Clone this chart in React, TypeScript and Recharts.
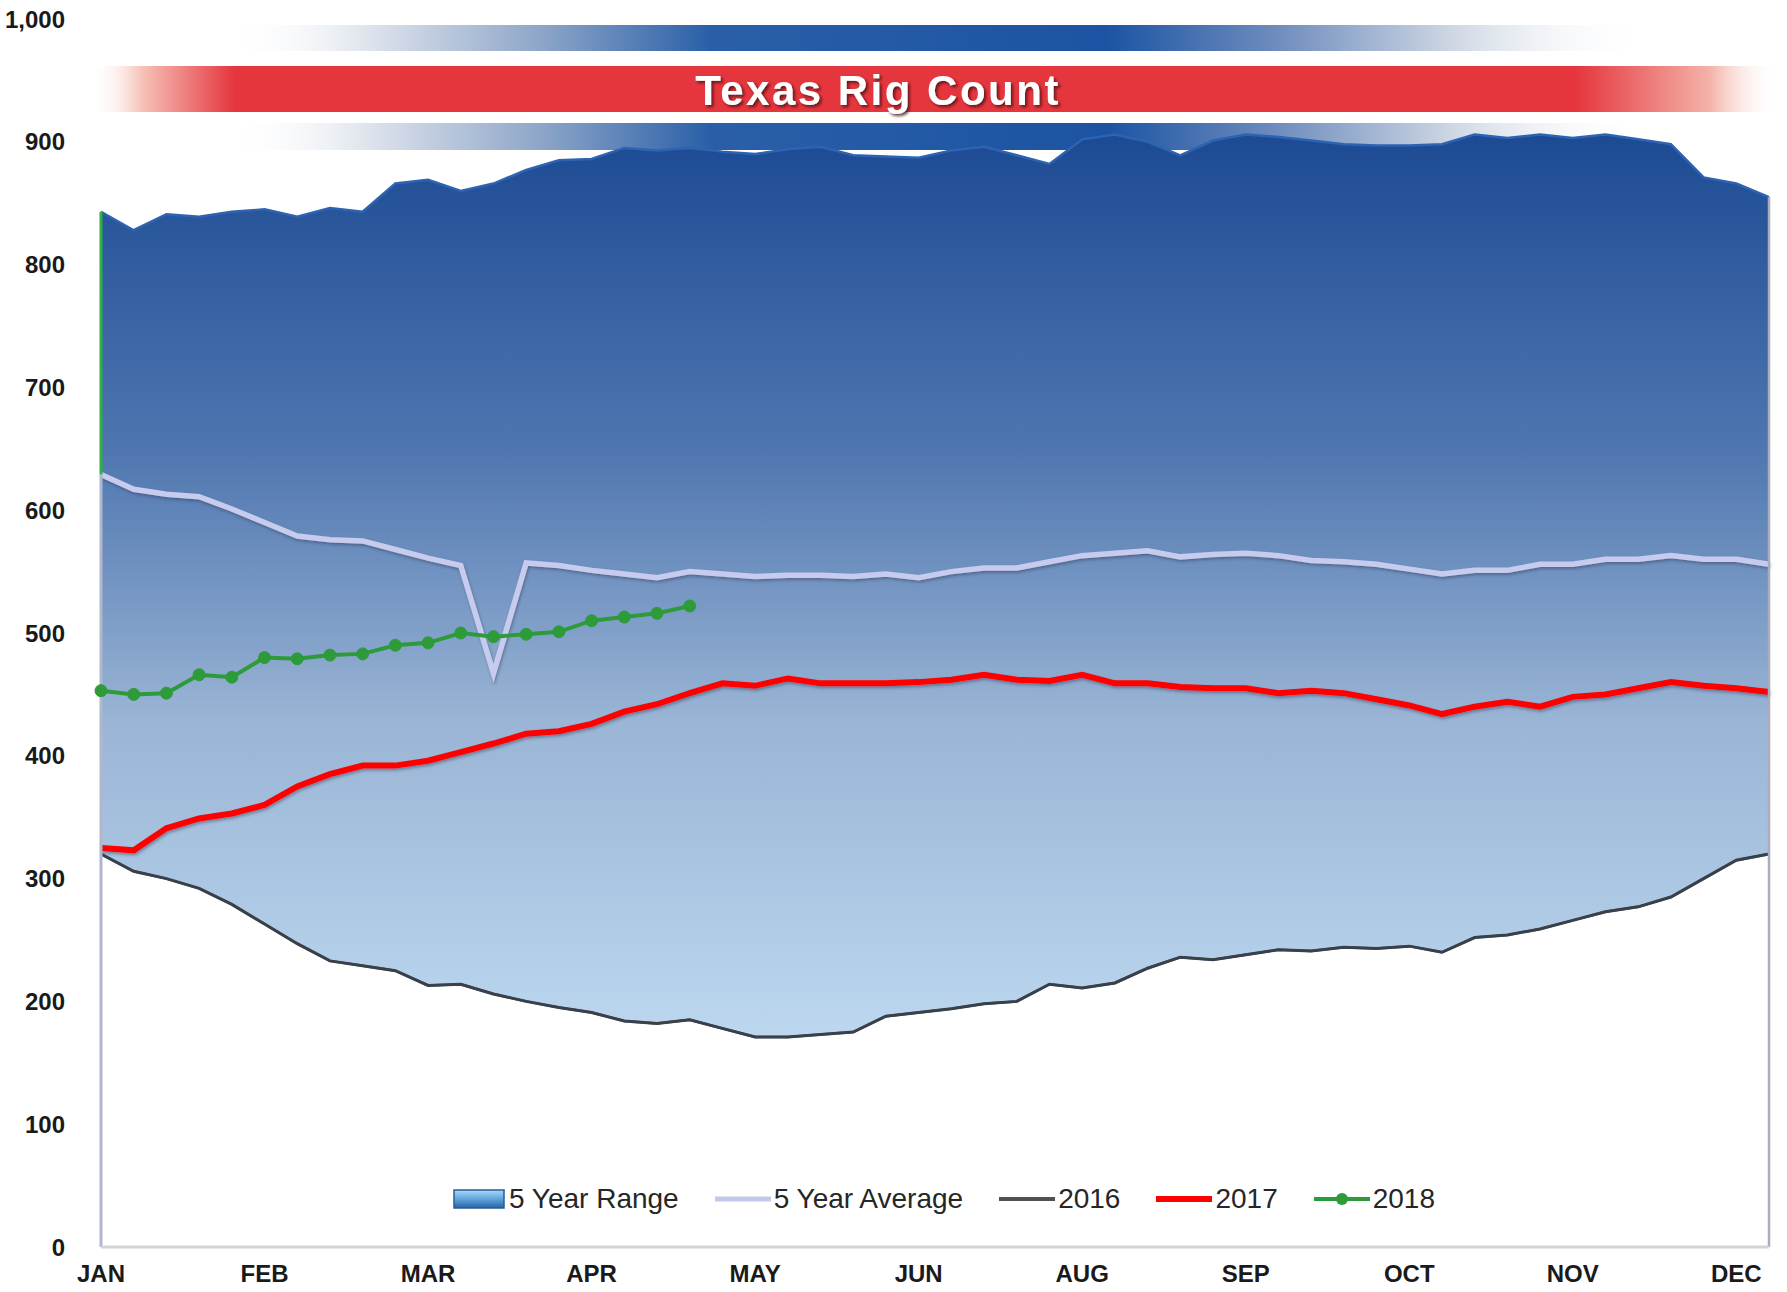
import React from 'react';
import {
  ComposedChart,
  Area,
  Line,
  XAxis,
  YAxis,
  Legend,
  ReferenceLine
} from 'recharts';

// weekly index, Jan..Dec
const weeks = [
  0, 1, 2, 3, 4, 5, 6, 7, 8, 9, 10, 11, 12, 13, 14, 15, 16, 17, 18, 19, 20, 21, 22, 23, 24, 25,
  26, 27, 28, 29, 30, 31, 32, 33, 34, 35, 36, 37, 38, 39, 40, 41, 42, 43, 44, 45, 46, 47, 48, 49, 50, 51
];
const monthTicks = [0, 5, 10, 15, 20, 25, 30, 35, 40, 45, 50];
const monthLabels = ['JAN', 'FEB', 'MAR', 'APR', 'MAY', 'JUN', 'AUG', 'SEP', 'OCT', 'NOV', 'DEC'];
const yTicks = [0, 100, 200, 300, 400, 500, 600, 700, 800, 900, 1000];

const fiveYearMax = [
  843, 828, 841, 839, 843, 845, 839, 846, 843, 866, 869, 860, 866, 877, 885, 886, 895, 893, 895, 892,
  890, 894, 896, 889, 888, 887, 893, 896, 889, 882, 902, 906, 900, 889, 901, 906, 904, 901, 898, 897,
  897, 898, 906, 903, 906, 903, 906, 902, 898, 871, 866, 855
];
const fiveYearAvg = [
  629, 617, 613, 611, 601, 590, 579, 576, 575, 568, 561, 555, 467, 557, 555, 551, 548, 545, 550, 548,
  546, 547, 547, 546, 548, 545, 550, 553, 553, 558, 563, 565, 567, 562, 564, 565, 563, 559, 558, 556,
  552, 548, 551, 551, 556, 556, 560, 560, 563, 560, 560, 556
];
const series2016 = [
  320, 306, 300, 292, 279, 263, 247, 233, 229, 225, 213, 214, 206, 200, 195, 191, 184, 182, 185, 178,
  171, 171, 173, 175, 188, 191, 194, 198, 200, 214, 211, 215, 227, 236, 234, 238, 242, 241, 244, 243,
  245, 240, 252, 254, 259, 266, 273, 277, 285, 300, 315, 320
];
const series2017 = [
  325, 323, 341, 349, 353, 360, 375, 385, 392, 392, 396, 403, 410, 418, 420, 426, 436, 442, 451, 459,
  457, 463, 459, 459, 459, 460, 462, 466, 462, 461, 466, 459, 459, 456, 455, 455, 451, 453, 451, 446,
  441, 434, 440, 444, 440, 448, 450, 455, 460, 457, 455, 452
];
const series2018 = [
  453, 450, 451, 466, 464, 480, 479, 482, 483, 490, 492, 500, 497, 499, 501, 510, 513, 516, 522
];

const data = weeks.map((w, i) => ({
  w,
  range: [series2016[i], fiveYearMax[i]],
  avg: fiveYearAvg[i],
  s2016: series2016[i],
  s2017: series2017[i],
  s2018: i < series2018.length ? series2018[i] : null
}));

const SANS = "'Liberation Sans', Arial, sans-serif";

const legendItems = [
  { label: '5 Year Range', kind: 'box', color: '#2e6fb0', width: 0 },
  { label: '5 Year Average', kind: 'line', color: '#c3c8ea', width: 5 },
  { label: '2016', kind: 'line', color: '#4d5257', width: 4 },
  { label: '2017', kind: 'line', color: '#ff0000', width: 6 },
  { label: '2018', kind: 'dot', color: '#2e9b3a', width: 4 }
];

function LegendContent() {
  return (
    <div style={{ display: 'flex', justifyContent: 'center', alignItems: 'center', gap: 36, paddingLeft: 98 }}>
      {legendItems.map((it) => (
        <div key={it.label} style={{ display: 'flex', alignItems: 'center' }}>
          <svg width={56} height={24} style={{ marginRight: 3 }}>
            <defs>
              <linearGradient id="legBox" x1="0" x2="0" y1="0" y2="1">
                <stop offset="0" stopColor="#a9d8f5" />
                <stop offset="0.5" stopColor="#5ea6dc" />
                <stop offset="1" stopColor="#2b62a3" />
              </linearGradient>
            </defs>
            {it.kind === 'box' ? (
              <rect x={4} y={3} width={50} height={18} fill="url(#legBox)" stroke="#2a5d96" strokeWidth={1.5} />
            ) : (
              <line x1={0} x2={56} y1={12} y2={12} stroke={it.color} strokeWidth={it.width} />
            )}
            {it.kind === 'dot' && <circle cx={28} cy={12} r={6} fill={it.color} />}
          </svg>
          <span style={{ fontFamily: SANS, fontSize: 28, color: '#262626' }}>{it.label}</span>
        </div>
      ))}
    </div>
  );
}

function Banner() {
  return (
    <svg width={1787} height={200} style={{ position: 'absolute', left: 0, top: 0 }}>
      <defs>
        <linearGradient id="blueBand" x1="0" x2="1" y1="0" y2="0">
          <stop offset="0" stopColor="#ffffff" stopOpacity={0} />
          <stop offset="0.1" stopColor="#dde3ec" />
          <stop offset="0.22" stopColor="#8ea6c8" />
          <stop offset="0.34" stopColor="#2a5fa8" />
          <stop offset="0.62" stopColor="#1c54a3" />
          <stop offset="0.74" stopColor="#6f8dbe" />
          <stop offset="0.87" stopColor="#d3dbe6" />
          <stop offset="1" stopColor="#ffffff" stopOpacity={0} />
        </linearGradient>
        <linearGradient id="redBand" x1="0" x2="1" y1="0" y2="0">
          <stop offset="0" stopColor="#ffffff" stopOpacity={0} />
          <stop offset="0.03" stopColor="#f6c2b8" />
          <stop offset="0.085" stopColor="#e5363e" />
          <stop offset="0.88" stopColor="#e5363e" />
          <stop offset="0.96" stopColor="#f4b3a9" />
          <stop offset="1" stopColor="#ffffff" stopOpacity={0} />
        </linearGradient>
        <filter id="titleShadow" x="-10%" y="-30%" width="120%" height="160%">
          <feDropShadow dx={2} dy={2} stdDeviation={1.5} floodColor="#4a1010" floodOpacity={0.85} />
        </filter>
      </defs>
      <rect x={228} y={25} width={1419} height={26} fill="url(#blueBand)" />
      <rect x={91} y={66} width={1687} height={46} fill="url(#redBand)" />
      <rect x={228} y={123} width={1419} height={27} fill="url(#blueBand)" />
      <text
        x={878}
        y={105}
        textAnchor="middle"
        fill="#ffffff"
        fontSize={42}
        fontWeight={700}
        letterSpacing={2.5}
        fontFamily={SANS}
        filter="url(#titleShadow)"
      >
        Texas Rig Count
      </text>
    </svg>
  );
}

export default function App() {
  const tickStyle = { fill: '#1a1a1a', fontSize: 24, fontWeight: 700, fontFamily: SANS };
  return (
    <div style={{ position: 'absolute', left: 0, top: 0, width: 1787, height: 1292, background: '#fff' }}>
      <Banner />
      <div style={{ position: 'absolute', left: 0, top: 0 }}>
        <ComposedChart width={1787} height={1292} data={data} margin={{ top: 19, right: 18, bottom: 0, left: 0 }}>
          <defs>
            <linearGradient id="rangeFill" x1="0" x2="0" y1="0" y2="1">
              <stop offset="0" stopColor="#1c4a93" />
              <stop offset="0.35" stopColor="#4f76b0" />
              <stop offset="0.65" stopColor="#9ab5d5" />
              <stop offset="1" stopColor="#bcd7ef" />
            </linearGradient>
            <filter id="lineShadow" x="-5%" y="-20%" width="110%" height="140%">
              <feDropShadow dx={1} dy={2} stdDeviation={1.5} floodColor="#2a3550" floodOpacity={0.45} />
            </filter>
          </defs>
          <XAxis
            dataKey="w"
            type="number"
            domain={[0, 51]}
            ticks={monthTicks}
            tickFormatter={(v: number) => monthLabels[monthTicks.indexOf(v)]}
            height={45}
            tickLine={false}
            axisLine={{ stroke: '#d4d4d4', strokeWidth: 3 }}
            tickMargin={12}
            tick={tickStyle}
          />
          <YAxis
            domain={[0, 1000]}
            ticks={yTicks}
            tickFormatter={(v: number) => v.toLocaleString('en-US')}
            width={101}
            tickLine={false}
            axisLine={false}
            tickMargin={30}
            tick={tickStyle}
          />
          <Area
            dataKey="range"
            type="linear"
            fill="url(#rangeFill)"
            fillOpacity={1}
            stroke="#2d63b3"
            strokeWidth={2.5}
            isAnimationActive={false}
            activeDot={false}
          />
          <Line
            dataKey="avg"
            type="linear"
            stroke="#c7ccee"
            strokeWidth={5.5}
            dot={false}
            activeDot={false}
            filter="url(#lineShadow)"
            isAnimationActive={false}
          />
          <Line
            dataKey="s2016"
            type="linear"
            stroke="#3b4046"
            strokeWidth={3}
            dot={false}
            activeDot={false}
            isAnimationActive={false}
          />
          <Line
            dataKey="s2017"
            type="linear"
            stroke="#ff0000"
            strokeWidth={6}
            dot={false}
            activeDot={false}
            filter="url(#lineShadow)"
            isAnimationActive={false}
          />
          <Line
            dataKey="s2018"
            type="linear"
            stroke="#2e9b3a"
            strokeWidth={4}
            dot={{ r: 6, fill: '#2e9b3a', stroke: '#2e9b3a', strokeWidth: 1 }}
            activeDot={false}
            isAnimationActive={false}
          />
          <ReferenceLine
            segment={[{ x: weeks[0], y: 0 }, { x: weeks[0], y: fiveYearAvg[0] }]}
            stroke="#aeb7cc"
            strokeWidth={3}
          />
          <ReferenceLine
            segment={[{ x: weeks[0], y: fiveYearAvg[0] }, { x: weeks[0], y: fiveYearMax[0] }]}
            stroke="#2fb041"
            strokeWidth={3}
          />
          <ReferenceLine
            segment={[{ x: weeks[51], y: 0 }, { x: weeks[51], y: fiveYearMax[51] }]}
            stroke="#a7adb9"
            strokeWidth={2.5}
          />
          <Legend
            verticalAlign="middle"
            align="center"
            layout="horizontal"
            content={() => <LegendContent />}
            wrapperStyle={{ top: 1183, left: 0, width: 1787 }}
          />
        </ComposedChart>
      </div>
    </div>
  );
}
